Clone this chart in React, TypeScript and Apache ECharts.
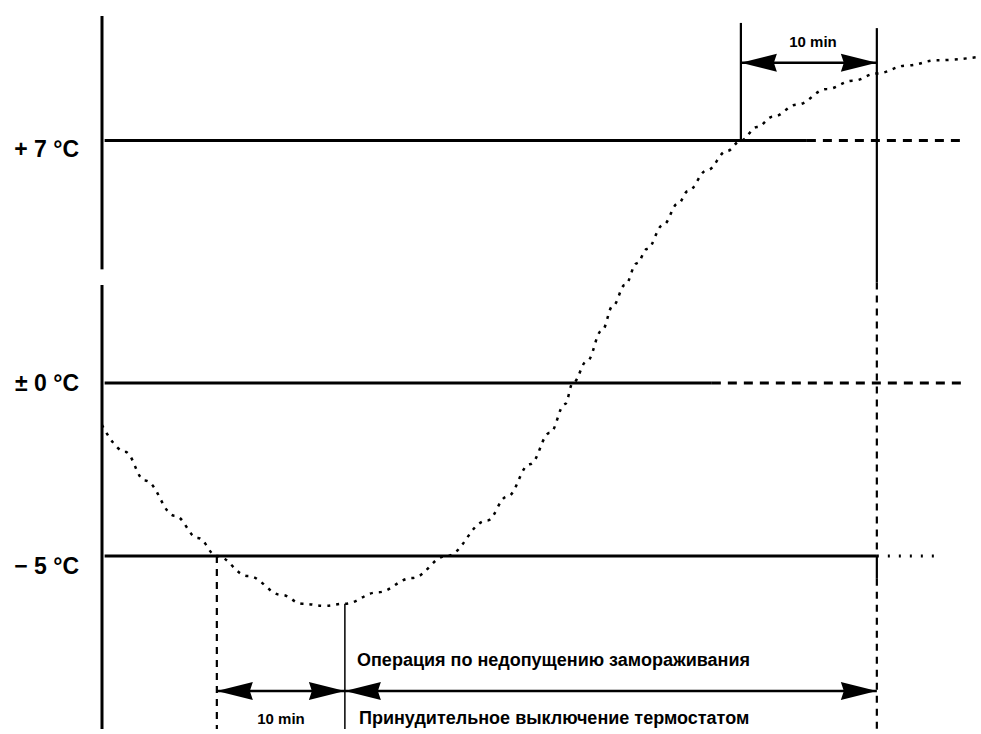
import React, { useEffect, useRef } from 'react';
import * as echarts from 'echarts';

// ---- data (minutes on x, °C on y) ----
const curveMinutes = [0, 1.74, 3.26, 5.53, 7.27, 8.7, 11.06, 13.64, 15.15, 16.89, 18.4, 20.9, 23.48, 26.1, 29.17, 30.68, 32.42, 33.94, 35.08, 35.68, 36.74, 37.88, 38.71, 39.62, 40.53, 41.29, 42.5, 43.64, 44.39, 45.83, 47.35, 48.4, 49.62, 50.83, 52.65, 54.92, 56.89, 58.7, 60.98, 63.26, 66.29];
const curveTemps = [-1.22, -1.99, -2.82, -3.84, -4.48, -5.0, -5.58, -6.13, -6.38, -6.44, -6.38, -6.05, -5.64, -5.0, -3.98, -3.29, -2.35, -1.44, -0.61, 0, 0.63, 1.52, 2.23, 2.83, 3.46, 3.87, 4.56, 5.18, 5.54, 6.14, 6.7, 7.0, 7.39, 7.69, 8.04, 8.49, 8.73, 8.94, 9.17, 9.32, 9.41];

const yLabelValues = [7, 0, -5];
const yLabelTexts = ['+ 7 °C', '± 0 °C', '− 5 °C'];

// segments: [x1, y1, x2, y2]
const solidSegments = [
  [0.2, 7, 53.4, 7],
  [0.2, 0, 46.2, 0],
  [0.2, -5, 58.7, -5],
  [0, 10.6, 0, 3.28],
  [0, 2.83, 0, -10],
];
const verticalSolidSegments = [
  [48.4, 10.4, 48.4, 7],
  [58.7, 10.25, 58.7, 2.9],
  [58.7, -5, 58.7, -5.66],
];
const dashedSegments = [
  [53.4, 7, 65.0, 7],
  [46.2, 0, 65.4, 0],
];
const verticalDashedSegments = [
  [8.7, -5, 8.7, -10],
  [58.7, 2.9, 58.7, -5],
  [58.7, -5.66, 58.7, -10],
];
const dottedSegments = [[58.7, -5, 63.1, -5]];
const thinSegments = [[18.4, -6.38, 18.4, -10]];

// arrows: [xStart, xEnd, y]
const arrows = [
  [48.4, 58.7, 9.25],
  [8.7, 18.4, -8.9],
  [18.4, 58.7, -8.9],
];

const labelTop = '10 min';
const labelBottom = '10 min';
const textOperation = 'Операция по недопущению замораживания';
const textShutdown = 'Принудительное выключение термостатом';

const FONT = '"Liberation Sans", Arial, sans-serif';

function segSeries(data: number[][], lineWidth: number, lineDash?: number[]) {
  return {
    type: 'custom',
    clip: false,
    silent: true,
    data,
    renderItem: (_p: any, api: any) => {
      const a = api.coord([api.value(0), api.value(1)]);
      const b = api.coord([api.value(2), api.value(3)]);
      return {
        type: 'line',
        shape: { x1: a[0], y1: a[1], x2: b[0], y2: b[1] },
        style: { stroke: '#000', lineWidth, lineDash: lineDash || null, fill: null },
      };
    },
  };
}

export default function App() {
  const ref = useRef<HTMLDivElement>(null);
  useEffect(() => {
    if (!ref.current) return;
    const chart = echarts.init(ref.current, null, { renderer: 'svg' });
    const L = 36;
    const H = 9;
    const option: any = {
      animation: false,
      backgroundColor: '#fff',
      grid: { left: 102, top: 16, width: 877.8, height: 713, outerBoundsMode: 'none' },
      xAxis: { type: 'value', min: 0, max: 66.5, show: false },
      yAxis: {
        type: 'value',
        min: -10,
        max: 10.6,
        interval: 1,
        axisLine: { show: false },
        axisTick: { show: false },
        splitLine: { show: false },
        axisLabel: {
          show: true,
          margin: 23,
          showMaxLabel: false,
          formatter: (v: number) => {
            const i = yLabelValues.indexOf(Math.round(v * 100) / 100);
            return i >= 0 ? `{l${i}|${yLabelTexts[i]}}` : '';
          },
          rich: {
            l0: { fontFamily: FONT, fontWeight: 'bold', fontSize: 23, color: '#000', padding: [16, 0, 0, 0] },
            l1: { fontFamily: FONT, fontWeight: 'bold', fontSize: 23, color: '#000', padding: [0, 0, 0, 0] },
            l2: { fontFamily: FONT, fontWeight: 'bold', fontSize: 23, color: '#000', padding: [20, 0, 0, 0] },
          },
        },
      },
      series: [
        segSeries(solidSegments, 3),
        segSeries(verticalSolidSegments, 2.2),
        segSeries(dashedSegments, 3, [9, 7]),
        segSeries(verticalDashedSegments, 2.2, [7, 6]),
        segSeries(dottedSegments, 3, [2, 9]),
        segSeries(thinSegments, 1.5),
        {
          type: 'line',
          data: curveMinutes.map((m, i) => [m, curveTemps[i]]),
          symbol: 'none',
          smooth: 0.4,
          smoothMonotone: 'x',
          silent: true,
          lineStyle: { color: '#000', width: 2.5, type: [3, 6] },
        },
        {
          type: 'custom',
          clip: false,
          silent: true,
          data: arrows,
          renderItem: (_p: any, api: any) => {
            const a = api.coord([api.value(0), api.value(2)]);
            const b = api.coord([api.value(1), api.value(2)]);
            return {
              type: 'group',
              children: [
                {
                  type: 'line',
                  shape: { x1: a[0], y1: a[1], x2: b[0], y2: b[1] },
                  style: { stroke: '#000', lineWidth: 2.5 },
                },
                {
                  type: 'polygon',
                  shape: { points: [[a[0], a[1]], [a[0] + L, a[1] - H], [a[0] + L - 3, a[1]], [a[0] + L, a[1] + H]] },
                  style: { fill: '#000' },
                },
                {
                  type: 'polygon',
                  shape: { points: [[b[0], b[1]], [b[0] - L, b[1] - H], [b[0] - L + 3, b[1]], [b[0] - L, b[1] + H]] },
                  style: { fill: '#000' },
                },
              ],
            };
          },
        },
      ],
      graphic: [
        {
          type: 'text', x: 813, y: 41,
          style: { text: labelTop, font: `bold 15px ${FONT}`, fill: '#000', align: 'center', verticalAlign: 'middle', textAlign: 'center', textVerticalAlign: 'middle' },
        },
        {
          type: 'text', x: 281, y: 718,
          style: { text: labelBottom, font: `bold 15px ${FONT}`, fill: '#000', align: 'center', verticalAlign: 'middle', textAlign: 'center', textVerticalAlign: 'middle' },
        },
        {
          type: 'text', x: 357, y: 660,
          style: { text: textOperation, font: `bold 18px ${FONT}`, fill: '#000', align: 'left', verticalAlign: 'middle', textAlign: 'left', textVerticalAlign: 'middle' },
        },
        {
          type: 'text', x: 359, y: 718,
          style: { text: textShutdown, font: `bold 18px ${FONT}`, fill: '#000', align: 'left', verticalAlign: 'middle', textAlign: 'left', textVerticalAlign: 'middle' },
        },
      ],
    };
    chart.setOption(option);
    return () => chart.dispose();
  }, []);
  return (
    <div
      ref={ref}
      style={{ position: 'fixed', left: 0, top: 0, width: 981, height: 734, background: '#fff' }}
    />
  );
}
